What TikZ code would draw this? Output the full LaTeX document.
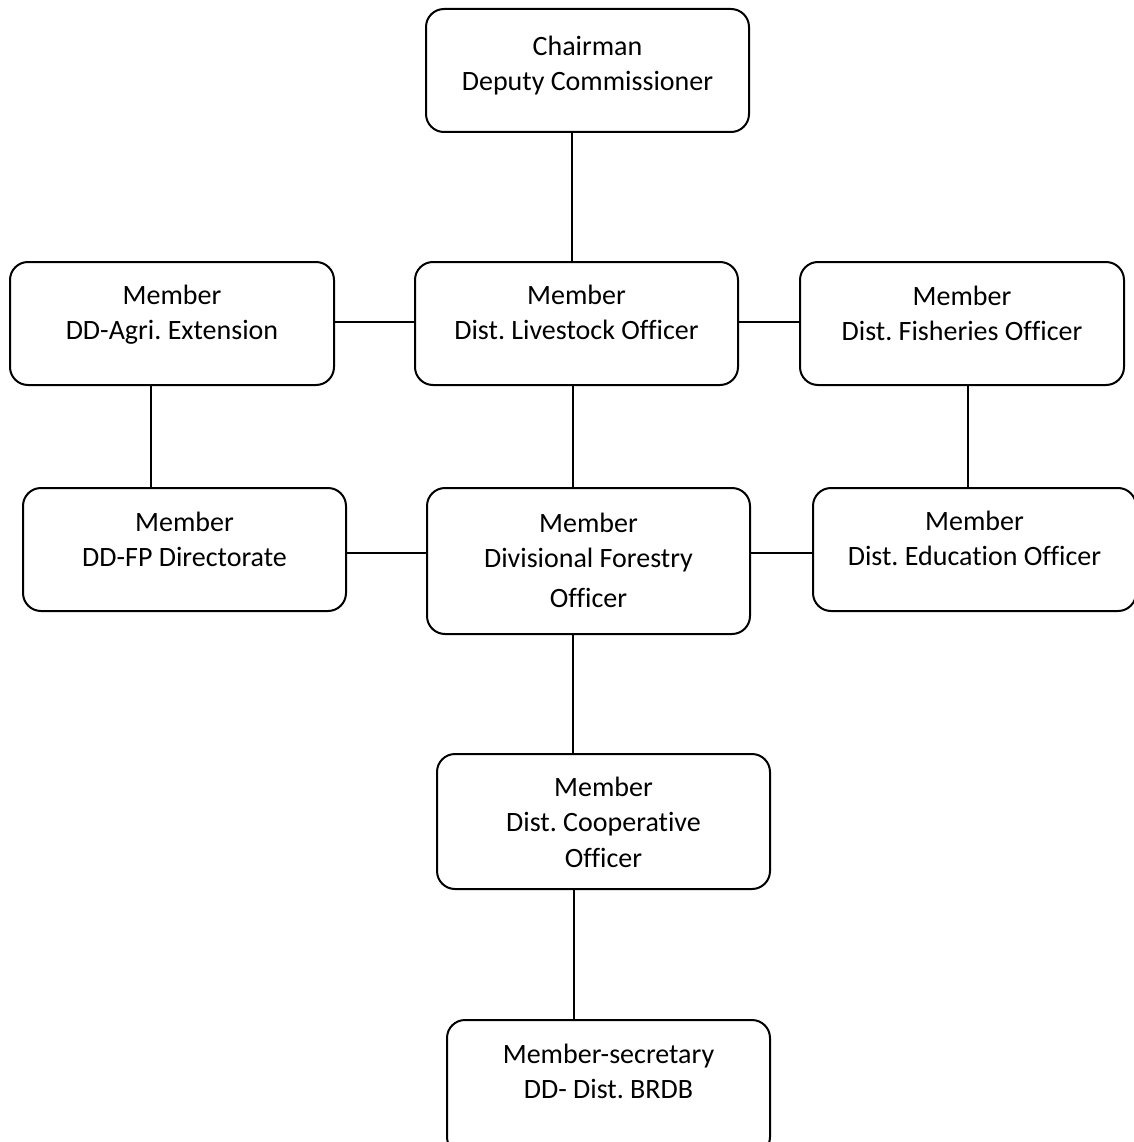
\documentclass[tikz,border=0pt]{standalone}
\usepackage{fontspec}
\setmainfont{Carlito}[Ligatures=CommonOff]
\frenchspacing
\begin{document}
\begin{tikzpicture}[x=1pt,y=-1pt,
  orgbox/.style={draw=black, line width=2pt, rounded corners=18pt, anchor=north west, inner sep=0pt},
  txt/.style={anchor=north, inner sep=0pt, align=center, text=black, font=\fontsize{28pt}{35.5pt}\selectfont},
  conn/.style={draw=black, line width=2pt}]
\useasboundingbox (0,0) rectangle (1133,1142);
\fill[white] (0,0) rectangle (1133,1142);
% boxes
\node[orgbox, minimum width=323pt, minimum height=123pt] (chair) at (425,8) {};
\node[orgbox, minimum width=324pt, minimum height=123pt] (agri) at (9,261) {};
\node[orgbox, minimum width=323pt, minimum height=123pt] (live) at (414,261) {};
\node[orgbox, minimum width=324pt, minimum height=123pt] (fish) at (799,261) {};
\node[orgbox, minimum width=323pt, minimum height=123pt] (fpdir) at (22,487) {};
\node[orgbox, minimum width=323pt, minimum height=146pt] (forest) at (426,487) {};
\node[orgbox, minimum width=323pt, minimum height=123pt] (edu) at (812,487) {};
\node[orgbox, minimum width=333pt, minimum height=135pt] (coop) at (436,753) {};
\node[orgbox, minimum width=323pt, minimum height=135pt] (sec) at (446,1019) {};
% texts
\node[txt] (tchair) at ([yshift=-22pt]chair.north) {\rule{0pt}{25pt}Chairman\\Deputy Commissioner};
\node[txt] (tagri) at ([yshift=-18pt]agri.north) {\rule{0pt}{25pt}Member\\DD-Agri. Extension};
\node[txt] (tlive) at ([yshift=-18pt]live.north) {\rule{0pt}{25pt}Member\\Dist. Livestock Officer};
\node[txt] (tfish) at ([yshift=-19pt]fish.north) {\rule{0pt}{25pt}Member\\Dist. Fisheries Officer};
\node[txt] (tfpdir) at ([yshift=-19pt]fpdir.north) {\rule{0pt}{25pt}Member\\DD-FP Directorate};
\node[txt] (tedu) at ([yshift=-18pt]edu.north) {\rule{0pt}{25pt}Member\\Dist. Education Officer};
\node[txt] (tforest) at ([yshift=-20pt]forest.north) {\rule{0pt}{25pt}Member\\Divisional Forestry\\[4pt]Officer};
\node[txt] (tcoop) at ([yshift=-18pt]coop.north) {\rule{0pt}{25pt}Member\\Dist. Cooperative\\Officer};
\node[txt] (tsec) at ([yshift=-19pt]sec.north) {\rule{0pt}{25pt}Member-secretary\\DD- Dist. BRDB};
% connectors
\draw[conn] ([xshift=-16pt]chair.south) -- ([xshift=-16pt]chair.south |- live.north);
\draw[conn] ([yshift=2pt]agri.east) -- ([yshift=2pt]agri.east -| live.west);
\draw[conn] ([yshift=2pt]live.east) -- ([yshift=2pt]live.east -| fish.west);
\draw[conn] ([xshift=-21pt]agri.south) -- ([xshift=-21pt]agri.south |- fpdir.north);
\draw[conn] ([xshift=-4pt]live.south) -- ([xshift=-4pt]live.south |- forest.north);
\draw[conn] ([xshift=6pt]fish.south) -- ([xshift=6pt]fish.south |- edu.north);
\draw[conn] ([yshift=-3pt]fpdir.east) -- ([yshift=-3pt]fpdir.east -| forest.west);
\draw[conn] ([yshift=-3pt]edu.west) -- ([yshift=-3pt]edu.west -| forest.east);
\draw[conn] ([xshift=-16pt]forest.south) -- ([xshift=-16pt]forest.south |- coop.north);
\draw[conn] ([xshift=-30pt]coop.south) -- ([xshift=-30pt]coop.south |- sec.north);
\end{tikzpicture}
\end{document}
